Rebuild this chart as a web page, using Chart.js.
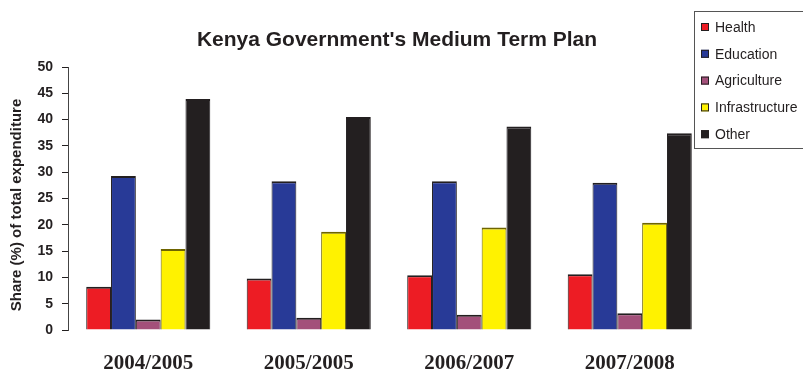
<!DOCTYPE html>
<html>
<head>
<meta charset="utf-8">
<title>Kenya Government's Medium Term Plan</title>
<script src="https://cdn.jsdelivr.net/npm/chart.js"></script>
<style>
    html, body { margin: 0; padding: 0; background: #fff; }
    canvas { display: block; }
</style>
</head>
<body>
<canvas id="mtpChart" width="803" height="373"></canvas>
<script>
// Share (%) of total expenditure per sector and year
const years = ['2004/2005', '2005/2005', '2006/2007', '2007/2008'];
const health = [8.2, 9.8, 10.4, 10.6];
const education = [29.3, 28.3, 28.3, 28.0];
const agriculture = [2.0, 2.35, 2.9, 3.2];
const infrastructure = [15.4, 18.7, 19.5, 20.4];
const other = [43.9, 40.5, 38.7, 37.4];
const yTicks = [0, 5, 10, 15, 20, 25, 30, 35, 40, 45, 50];

const INK = '#231f20';

const series = [
    { label: 'Health', data: health, color: '#ed1c24', edge: INK },
    { label: 'Education', data: education, color: '#283a97', edge: INK },
    { label: 'Agriculture', data: agriculture, color: '#a3507a', edge: INK },
    { label: 'Infrastructure', data: infrastructure, color: '#fff200', edge: '#6e6400' },
    { label: 'Other', data: other, color: '#231f20', edge: INK }
];

// Title, y-axis caption and boxed legend are painted by hand;
// the legend sits over the plot's top-right corner
const decorations = {
    id: 'decorations',
    afterDraw(chart) {
        const ctx = chart.ctx;
        ctx.save();

        ctx.fillStyle = INK;
        ctx.font = 'bold 21px "Liberation Sans", Arial, sans-serif';
        ctx.textAlign = 'center';
        ctx.textBaseline = 'middle';
        ctx.fillText("Kenya Government's Medium Term Plan", 397, 40);

        ctx.save();
        ctx.translate(17, 205);
        ctx.rotate(-Math.PI / 2);
        ctx.font = 'bold 15px "Liberation Sans", Arial, sans-serif';
        ctx.fillText('Share (%) of total expenditure', 0, 0);
        ctx.restore();

        const box = { x: 694.5, y: 11.5, w: 130, h: 137 };
        ctx.fillStyle = '#fff';
        ctx.fillRect(box.x, box.y, box.w, box.h);
        ctx.strokeStyle = '#555';
        ctx.lineWidth = 1;
        ctx.strokeRect(box.x, box.y, box.w, box.h);

        ctx.font = '14px "Liberation Sans", Arial, sans-serif';
        ctx.textAlign = 'left';
        chart.data.datasets.forEach((ds, i) => {
            const cy = 27 + i * 26.8;
            ctx.fillStyle = ds.backgroundColor;
            ctx.fillRect(701, cy - 4, 8, 8);
            ctx.strokeStyle = INK;
            ctx.strokeRect(701.5, cy - 3.5, 7, 7);
            ctx.fillStyle = INK;
            ctx.fillText(ds.label, 715, cy + 1);
        });

        ctx.restore();
    }
};

new Chart(document.getElementById('mtpChart'), {
    type: 'bar',
    data: {
        labels: years,
        datasets: series.map(s => ({
            label: s.label,
            data: s.data,
            backgroundColor: s.color,
            borderColor: s.edge,
            borderWidth: { top: 2, left: 1, right: 1, bottom: 0 },
            borderSkipped: 'bottom',
            categoryPercentage: 0.773,
            barPercentage: 1.0
        }))
    },
    options: {
        responsive: false,
        animation: false,
        layout: { padding: { top: 67, right: 93, bottom: 0, left: 0 } },
        plugins: {
            legend: { display: false },
            tooltip: { enabled: false },
            title: { display: false }
        },
        scales: {
            x: {
                grid: { display: false, drawTicks: false },
                border: { display: false },
                ticks: {
                    padding: 21,
                    color: INK,
                    font: { family: '"Liberation Serif", "Times New Roman", serif', size: 21, weight: 'bold' }
                },
                afterFit(scale) { scale.height = 43; }
            },
            y: {
                min: 0,
                max: 50,
                afterBuildTicks(scale) { scale.ticks = yTicks.map(v => ({ value: v })); },
                grid: { drawOnChartArea: false, drawTicks: true, tickLength: 6, color: INK },
                border: { display: true, color: '#444', width: 1 },
                ticks: {
                    padding: 9,
                    color: INK,
                    font: { family: '"Liberation Sans", Arial, sans-serif', size: 14, weight: 'bold' }
                },
                afterFit(scale) { scale.width = 68; }
            }
        }
    },
    plugins: [decorations]
});
</script>
</body>
</html>
